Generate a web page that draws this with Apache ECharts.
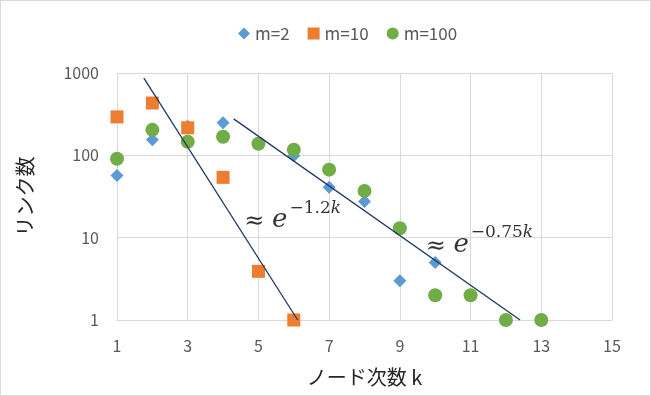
<!DOCTYPE html>
<html><head><meta charset="utf-8">
<script src="https://cdn.jsdelivr.net/npm/echarts@6/dist/echarts.min.js"></script>
<style>
html,body{margin:0;padding:0;background:#fff;}
#c{position:absolute;left:0;top:0;width:649px;height:394px;border:1px solid #d9d9d9;}
</style></head>
<body><div id="c"></div>
<script>
const xTicks = [1, 3, 5, 7, 9, 11, 13, 15];
const yTicks = [1, 10, 100, 1000];
const seriesNames = ['m=2', 'm=10', 'm=100'];
const kM2 = [1, 2, 3, 4, 6, 7, 8, 9, 10];
const vM2 = [57, 155, 225, 248, 99, 41, 27.5, 3, 5];
const kM10 = [1, 2, 3, 4, 5, 6];
const vM10 = [293, 432, 216, 54, 3.9, 1];
const kM100 = [1, 2, 3, 4, 5, 6, 7, 8, 9, 10, 11, 12, 13];
const vM100 = [91, 204, 146, 168, 138, 117, 67, 37, 13, 2, 2, 1, 1];
const fit1K = [1.76, 6.11];
const fit1V = [867, 1];
const fit2K = [4.30, 12.40];
const fit2V = [277, 1];
const ann1 = [5.97, 18.0, '−1.2'];
const ann2 = [11.25, 9.0, '−0.75'];

const zip = (a, b) => a.map((v, i) => [v, b[i]]);
const font = '"Noto Sans CJK JP", "Noto Sans", sans-serif';
const serif = '"DejaVu Serif", serif';
const annLabel = (exp) => ({
  show: true, position: 'inside',
  formatter: '{a|≈ }{e|e}{s|' + exp + '}{k|k}',
  rich: {
    a: {fontSize: 24, fontFamily: serif, color: '#000', verticalAlign: 'bottom', lineHeight: 34},
    e: {fontSize: 26, fontFamily: serif, fontStyle: 'italic', color: '#000', verticalAlign: 'bottom', lineHeight: 34},
    s: {fontSize: 17, fontFamily: serif, color: '#000', verticalAlign: 'top', lineHeight: 34, padding: [0,0,0,2]},
    k: {fontSize: 17, fontFamily: serif, fontStyle: 'italic', color: '#000', verticalAlign: 'top', lineHeight: 34}
  }
});

const chart = echarts.init(document.getElementById('c'));
chart.setOption({
  animation: false,
  textStyle: {fontFamily: font},
  legend: {
    top: 19, left: 232, itemGap: 18, itemWidth: 12, itemHeight: 12,
    textStyle: {color: '#595959', fontSize: 17, fontFamily: font},
    data: [
      {name: seriesNames[0], icon: 'diamond'},
      {name: seriesNames[1], icon: 'rect'},
      {name: seriesNames[2], icon: 'circle'}
    ]
  },
  grid: {left: 116, right: 38, top: 72, bottom: 75},
  xAxis: {
    type: 'value', min: xTicks[0], max: xTicks[xTicks.length - 1], interval: 2,
    name: 'ノード次数 k', nameLocation: 'middle', nameGap: 47,
    nameTextStyle: {fontSize: 20, color: '#262626', fontFamily: font},
    axisLine: {show: true, lineStyle: {color: '#d9d9d9'}},
    axisTick: {show: false},
    axisLabel: {fontSize: 16, color: '#595959', margin: 18},
    splitLine: {show: true, lineStyle: {color: '#d9d9d9'}}
  },
  yAxis: {
    type: 'log', logBase: 10, min: yTicks[0], max: yTicks[yTicks.length - 1],
    name: 'リンク数', nameLocation: 'middle', nameGap: 82, nameRotate: 90,
    nameTextStyle: {fontSize: 20, color: '#262626', fontFamily: font},
    axisLine: {show: false}, axisTick: {show: false},
    axisLabel: {fontSize: 16, color: '#595959', margin: 18, formatter: (v) => String(Math.round(v))},
    splitLine: {show: true, lineStyle: {color: '#d9d9d9'}}
  },
  series: [
    {name: seriesNames[0], type: 'scatter', symbol: 'diamond', symbolSize: 13, z: 3,
     itemStyle: {color: '#5B9BD5', opacity: 1}, data: zip(kM2, vM2)},
    {name: seriesNames[1], type: 'scatter', symbol: 'rect', symbolSize: 13, z: 4,
     itemStyle: {color: '#ED7D31', opacity: 1}, data: zip(kM10, vM10)},
    {name: seriesNames[2], type: 'scatter', symbol: 'circle', symbolSize: 14, z: 5,
     itemStyle: {color: '#70AD47', opacity: 1}, data: zip(kM100, vM100)},
    {type: 'line', showSymbol: false, symbol: 'none', z: 6, silent: true,
     lineStyle: {color: '#1F3864', width: 1.3}, data: zip(fit1K, fit1V)},
    {type: 'line', showSymbol: false, symbol: 'none', z: 6, silent: true,
     lineStyle: {color: '#1F3864', width: 1.3}, data: zip(fit2K, fit2V)},
    {type: 'scatter', symbolSize: 0, z: 7, silent: true, label: annLabel(ann1[2]), data: [[ann1[0], ann1[1]]]},
    {type: 'scatter', symbolSize: 0, z: 7, silent: true, label: annLabel(ann2[2]), data: [[ann2[0], ann2[1]]]}
  ]
});
</script></body></html>
